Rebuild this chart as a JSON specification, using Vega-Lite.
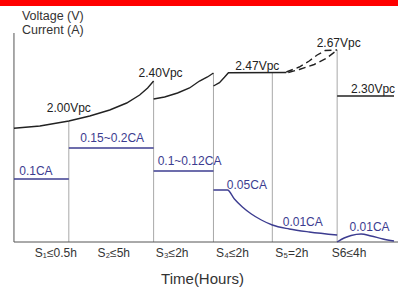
{
  "$schema": "https://vega.github.io/schema/vega-lite/v6.json",
  "width": 399,
  "height": 287,
  "padding": 0,
  "autosize": {"type": "fit", "contains": "padding"},
  "config": {"view": {"stroke": null}, "text": {"font": "Liberation Sans"}},
  "layer": [
    {
      "data": {"values": [{"x": -14, "x2": 385, "y": 236, "y2": 242}]},
      "mark": {"type": "rect", "color": "#ff0000"},
      "encoding": {
        "x": {"field": "x", "type": "quantitative", "scale": {"domain": [-14, 385], "nice": false, "zero": false}, "axis": null},
        "x2": {"field": "x2"},
        "y": {"field": "y", "type": "quantitative", "scale": {"domain": [-45, 242], "nice": false, "zero": false}, "axis": null},
        "y2": {"field": "y2"}
      }
    },
    {
      "data": {"values": [
        {"x": 55, "y": 0, "y2": 121},
        {"x": 140, "y": 0, "y2": 161},
        {"x": 200, "y": 0, "y2": 169},
        {"x": 259, "y": 0, "y2": 169.3},
        {"x": 324, "y": 0, "y2": 192}
      ]},
      "mark": {"type": "rule", "color": "#a8a8a8", "strokeWidth": 1},
      "encoding": {
        "x": {"field": "x", "type": "quantitative", "scale": {"domain": [-14, 385], "nice": false, "zero": false}, "axis": null},
        "y": {"field": "y", "type": "quantitative", "scale": {"domain": [-45, 242], "nice": false, "zero": false}, "axis": null},
        "y2": {"field": "y2"}
      }
    },
    {
      "data": {"values": [
        {"x": 0, "y": 0, "y2": 209},
        {"x": 0, "x2": 385, "y": 0}
      ]},
      "mark": {"type": "rule", "color": "#555555", "strokeWidth": 1},
      "encoding": {
        "x": {"field": "x", "type": "quantitative", "scale": {"domain": [-14, 385], "nice": false, "zero": false}, "axis": null},
        "x2": {"field": "x2"},
        "y": {"field": "y", "type": "quantitative", "scale": {"domain": [-45, 242], "nice": false, "zero": false}, "axis": null},
        "y2": {"field": "y2"}
      }
    },
    {
      "data": {"values": [
        {"g": "v1", "x": 0, "y": 113.7}, {"g": "v1", "x": 26, "y": 116}, {"g": "v1", "x": 55, "y": 121}, {"g": "v1", "x": 76, "y": 126}, {"g": "v1", "x": 96, "y": 132}, {"g": "v1", "x": 113, "y": 139}, {"g": "v1", "x": 126, "y": 147}, {"g": "v1", "x": 134, "y": 154}, {"g": "v1", "x": 140, "y": 161},
        {"g": "v2", "x": 140, "y": 143}, {"g": "v2", "x": 151, "y": 145}, {"g": "v2", "x": 164, "y": 149}, {"g": "v2", "x": 176, "y": 154}, {"g": "v2", "x": 186, "y": 161}, {"g": "v2", "x": 194, "y": 165}, {"g": "v2", "x": 200, "y": 169},
        {"g": "v3", "x": 200, "y": 156}, {"g": "v3", "x": 206, "y": 159.3}, {"g": "v3", "x": 211, "y": 164.7}, {"g": "v3", "x": 215, "y": 169.3}, {"g": "v3", "x": 273, "y": 169.5},
        {"g": "v5", "x": 324, "y": 146}, {"g": "v5", "x": 381, "y": 146}
      ]},
      "mark": {"type": "line", "color": "#222222", "strokeWidth": 1.4},
      "encoding": {
        "x": {"field": "x", "type": "quantitative", "scale": {"domain": [-14, 385], "nice": false, "zero": false}, "axis": null},
        "y": {"field": "y", "type": "quantitative", "scale": {"domain": [-45, 242], "nice": false, "zero": false}, "axis": null},
        "detail": {"field": "g"}
      }
    },
    {
      "data": {"values": [
        {"g": "d1", "x": 273, "y": 170}, {"g": "d1", "x": 286, "y": 175}, {"g": "d1", "x": 296, "y": 181}, {"g": "d1", "x": 304, "y": 187}, {"g": "d1", "x": 312, "y": 191.5}, {"g": "d1", "x": 324, "y": 192},
        {"g": "d2", "x": 275, "y": 169.5}, {"g": "d2", "x": 286, "y": 172.5}, {"g": "d2", "x": 301, "y": 177.5}, {"g": "d2", "x": 313, "y": 183.5}, {"g": "d2", "x": 324, "y": 192}
      ]},
      "mark": {"type": "line", "color": "#222222", "strokeWidth": 1.4, "strokeDash": [7, 4]},
      "encoding": {
        "x": {"field": "x", "type": "quantitative", "scale": {"domain": [-14, 385], "nice": false, "zero": false}, "axis": null},
        "y": {"field": "y", "type": "quantitative", "scale": {"domain": [-45, 242], "nice": false, "zero": false}, "axis": null},
        "detail": {"field": "g"}
      }
    },
    {
      "data": {"values": [
        {"g": "c1", "x": 0, "y": 63}, {"g": "c1", "x": 55, "y": 63},
        {"g": "c2", "x": 55, "y": 94}, {"g": "c2", "x": 140, "y": 94},
        {"g": "c3", "x": 140, "y": 71}, {"g": "c3", "x": 200, "y": 71},
        {"g": "c4", "x": 200, "y": 52}, {"g": "c4", "x": 214, "y": 52}, {"g": "c4", "x": 221, "y": 43}, {"g": "c4", "x": 229, "y": 35}, {"g": "c4", "x": 238, "y": 28}, {"g": "c4", "x": 248, "y": 22}, {"g": "c4", "x": 259, "y": 17}, {"g": "c4", "x": 276, "y": 13}, {"g": "c4", "x": 296, "y": 10}, {"g": "c4", "x": 324, "y": 7},
        {"g": "c6", "x": 324, "y": 0}, {"g": "c6", "x": 331, "y": 4}, {"g": "c6", "x": 338, "y": 6.5}, {"g": "c6", "x": 348, "y": 8}, {"g": "c6", "x": 358, "y": 6}, {"g": "c6", "x": 370, "y": 3}, {"g": "c6", "x": 381, "y": 1}
      ]},
      "mark": {"type": "line", "color": "#3c3c90", "strokeWidth": 1.4, "interpolate": "monotone"},
      "encoding": {
        "x": {"field": "x", "type": "quantitative", "scale": {"domain": [-14, 385], "nice": false, "zero": false}, "axis": null},
        "y": {"field": "y", "type": "quantitative", "scale": {"domain": [-45, 242], "nice": false, "zero": false}, "axis": null},
        "detail": {"field": "g"}
      }
    },
    {
      "data": {"values": [
        {"t": "Voltage (V)", "x": 8, "y": 226},
        {"t": "Current (A)", "x": 8, "y": 212}
      ]},
      "mark": {"type": "text", "align": "left", "baseline": "middle", "fontSize": 12.5, "color": "#333333"},
      "encoding": {
        "x": {"field": "x", "type": "quantitative", "scale": {"domain": [-14, 385], "nice": false, "zero": false}, "axis": null},
        "y": {"field": "y", "type": "quantitative", "scale": {"domain": [-45, 242], "nice": false, "zero": false}, "axis": null},
        "text": {"field": "t"}
      }
    },
    {
      "data": {"values": [
        {"t": "2.00Vpc", "x": 55, "y": 134},
        {"t": "2.40Vpc", "x": 147, "y": 169},
        {"t": "2.47Vpc", "x": 244, "y": 176},
        {"t": "2.67Vpc", "x": 325.5, "y": 199},
        {"t": "2.30Vpc", "x": 360, "y": 153}
      ]},
      "mark": {"type": "text", "align": "center", "baseline": "middle", "fontSize": 12, "color": "#222222"},
      "encoding": {
        "x": {"field": "x", "type": "quantitative", "scale": {"domain": [-14, 385], "nice": false, "zero": false}, "axis": null},
        "y": {"field": "y", "type": "quantitative", "scale": {"domain": [-45, 242], "nice": false, "zero": false}, "axis": null},
        "text": {"field": "t"}
      }
    },
    {
      "data": {"values": [
        {"t": "0.1CA", "x": 22, "y": 71},
        {"t": "0.15~0.2CA", "x": 98.5, "y": 104},
        {"t": "0.1~0.12CA", "x": 176, "y": 81},
        {"t": "0.05CA", "x": 233.5, "y": 57.5},
        {"t": "0.01CA", "x": 289.5, "y": 20.5},
        {"t": "0.01CA", "x": 356.5, "y": 15.5}
      ]},
      "mark": {"type": "text", "align": "center", "baseline": "middle", "fontSize": 12, "color": "#3c3c90"},
      "encoding": {
        "x": {"field": "x", "type": "quantitative", "scale": {"domain": [-14, 385], "nice": false, "zero": false}, "axis": null},
        "y": {"field": "y", "type": "quantitative", "scale": {"domain": [-45, 242], "nice": false, "zero": false}, "axis": null},
        "text": {"field": "t"}
      }
    },
    {
      "data": {"values": [
        {"t": "S₁≤0.5h", "x": 42, "y": -11},
        {"t": "S₂≤5h", "x": 100, "y": -11},
        {"t": "S₃≤2h", "x": 158.5, "y": -11},
        {"t": "S₄≤2h", "x": 219, "y": -11},
        {"t": "S₅=2h", "x": 278.5, "y": -11},
        {"t": "S6≤4h", "x": 336, "y": -11}
      ]},
      "mark": {"type": "text", "align": "center", "baseline": "middle", "fontSize": 12, "color": "#333333"},
      "encoding": {
        "x": {"field": "x", "type": "quantitative", "scale": {"domain": [-14, 385], "nice": false, "zero": false}, "axis": null},
        "y": {"field": "y", "type": "quantitative", "scale": {"domain": [-45, 242], "nice": false, "zero": false}, "axis": null},
        "text": {"field": "t"}
      }
    },
    {
      "data": {"values": [{"t": "Time(Hours)", "x": 189, "y": -37}]},
      "mark": {"type": "text", "align": "center", "baseline": "middle", "fontSize": 15, "color": "#333333"},
      "encoding": {
        "x": {"field": "x", "type": "quantitative", "scale": {"domain": [-14, 385], "nice": false, "zero": false}, "axis": null},
        "y": {"field": "y", "type": "quantitative", "scale": {"domain": [-45, 242], "nice": false, "zero": false}, "axis": null},
        "text": {"field": "t"}
      }
    }
  ]
}
